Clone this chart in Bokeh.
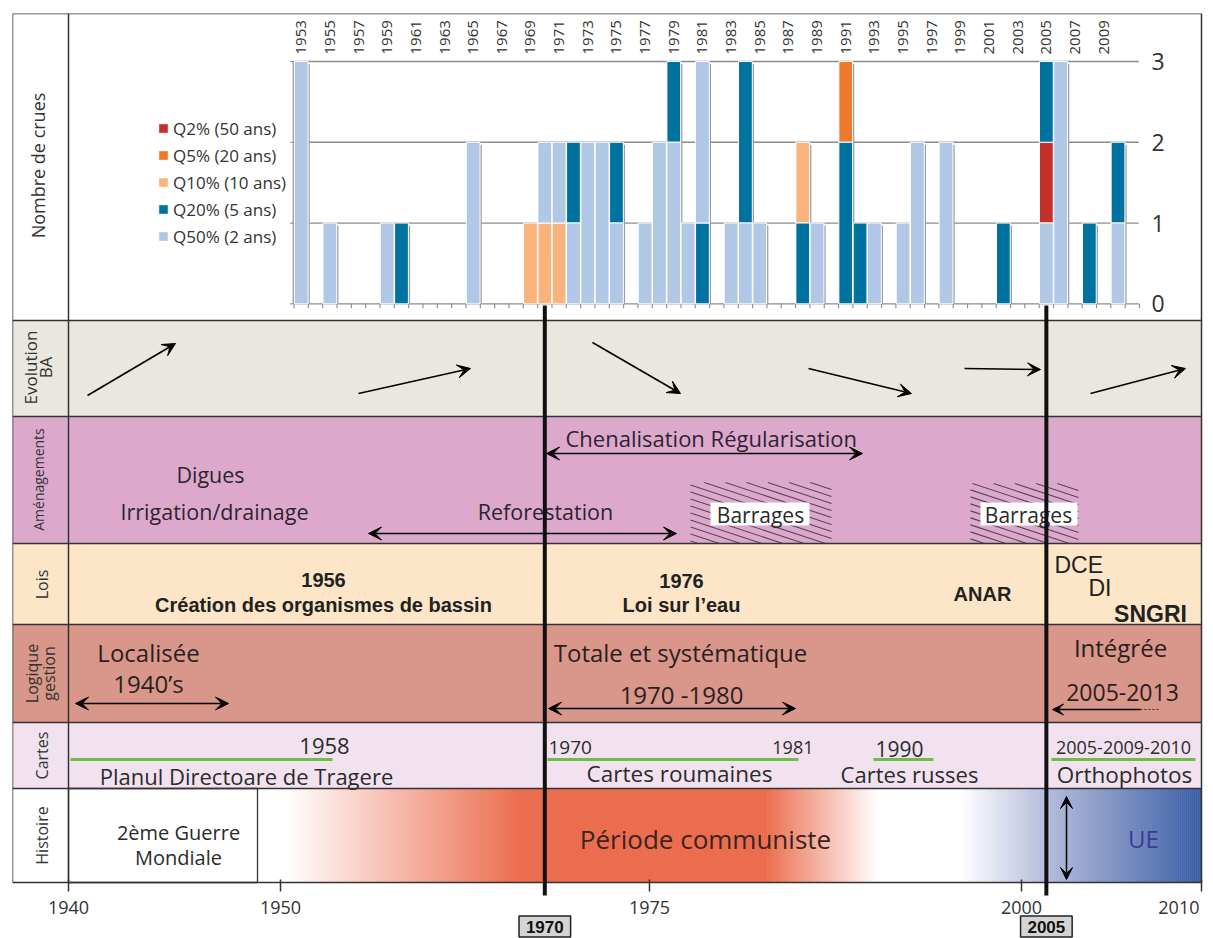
import math
from bokeh.plotting import figure
from bokeh.models import Range1d, ColumnDataSource, Legend, LegendItem, Arrow, VeeHead, FixedTicker
from bokeh.core.properties import value
from bokeh.embed import file_html
from bokeh.resources import INLINE

# ---------------- data ----------------
crue_classes = ["Q2", "Q5", "Q10", "Q20", "Q50"]
crue_labels = ["Q2% (50 ans)", "Q5% (20 ans)", "Q10% (10 ans)", "Q20% (5 ans)", "Q50% (2 ans)"]
crue_colors = ["#C4302A", "#EE7A2E", "#F9B37C", "#00729F", "#B0C7E5"]

# one entry per flood, stacked bottom -> top in the listed order
flood_year = [
    1953, 1953, 1953,
    1955,
    1959,
    1960,
    1965, 1965,
    1969,
    1970, 1970,
    1971, 1971,
    1972, 1972,
    1973, 1973,
    1974, 1974,
    1975, 1975,
    1977,
    1978, 1978,
    1979, 1979, 1979,
    1980,
    1981, 1981, 1981,
    1983,
    1984, 1984, 1984,
    1985,
    1988, 1988,
    1989,
    1991, 1991, 1991,
    1992,
    1993,
    1995,
    1996, 1996,
    1998, 1998,
    2002,
    2005, 2005, 2005,
    2006, 2006, 2006,
    2008,
    2010, 2010,
]
flood_class = [
    "Q50", "Q50", "Q50",
    "Q50",
    "Q50",
    "Q20",
    "Q50", "Q50",
    "Q10",
    "Q10", "Q50",
    "Q10", "Q50",
    "Q50", "Q20",
    "Q50", "Q50",
    "Q50", "Q50",
    "Q50", "Q20",
    "Q50",
    "Q50", "Q50",
    "Q50", "Q50", "Q20",
    "Q50",
    "Q20", "Q50", "Q50",
    "Q50",
    "Q50", "Q20", "Q20",
    "Q50",
    "Q20", "Q10",
    "Q50",
    "Q20", "Q20", "Q5",
    "Q20",
    "Q50",
    "Q50",
    "Q50", "Q50",
    "Q50", "Q50",
    "Q20",
    "Q50", "Q2", "Q20",
    "Q50", "Q50", "Q50",
    "Q20",
    "Q50", "Q20",
]

year_labels = [1953, 1955, 1957, 1959, 1961, 1963, 1965, 1967, 1969, 1971, 1973, 1975,
               1977, 1979, 1981, 1983, 1985, 1987, 1989, 1991, 1993, 1995, 1997, 1999,
               2001, 2003, 2005, 2007, 2009]
count_ticks = [0, 1, 2, 3]
key_years = [1970, 2005]

timeline_labels = ["1940", "1950", "1975", "2000", "2010"]
timeline_px = [68, 280, 649, 1021, 1201]

band_names = ["Nombre de crues", "Evolution BA", "Aménagements", "Lois", "Logique gestion", "Cartes", "Histoire"]
band_edges = [13, 320, 416, 543, 624, 722, 788, 882]
band_colors = ["#FFFFFF", "#E9E7DF", "#DCA9CD", "#FDE6C8", "#D9968A", "#F2E2F0", "#FFFFFF"]

# ---------------- layout / scales ----------------
X_L, X_DIV, X_R = 12, 68, 1201
F_R = 1213                                    # frame right edge (page edge)
Y_T, Y_B = 13, 938                            # frame spans the page below the top margin
YR0, PX0, PPY = 1953, 300.7, 14.33          # top bar chart: year -> pixel
C0_PX, PPC = 303.3, 80.77                    # count 0 at pixel 303.3, 80.77 px per flood

yr_range = Range1d(YR0 + (X_L - PX0) / PPY, YR0 + (F_R - PX0) / PPY)
count_range = Range1d((C0_PX - Y_B) / PPC, (C0_PX - Y_T) / PPC)

p = figure(width=1213, height=938, x_range=Range1d(X_L, F_R), y_range=Range1d(Y_B, Y_T),
           output_backend="svg", toolbar_location=None, y_axis_location=None, title=None,
           min_border_left=12, min_border_right=0, min_border_top=13, min_border_bottom=0)
p.extra_x_ranges = {"yr": yr_range}
p.extra_y_ranges = {"count": count_range}
p.grid.visible = False
p.background_fill_color = "white"
p.border_fill_color = "white"
p.outline_line_color = None

NB = "\u00a0"
ax = p.xaxis[0]
ax.fixed_location = band_edges[-1]
ax.ticker = FixedTicker(ticks=timeline_px)
ax.major_label_overrides = {t: (l if t != timeline_px[-1] else l + NB * 3)
                            for t, l in zip(timeline_px, timeline_labels)}
ax.minor_tick_line_color = None
ax.major_tick_in = 3
ax.major_tick_out = 9
ax.major_tick_line_width = 1.5
ax.major_tick_line_color = "#333333"
ax.axis_line_color = None
ax.major_label_text_font = "Open Sans"
ax.major_label_text_font_size = "18px"
ax.major_label_text_color = "#333333"
ax.major_label_standoff = 3

OS = "Open Sans"
LS = "Liberation Sans"


def T(x, y, s, size, font=OS, style="normal", align="center", color="#2b2b2b", angle=0.0,
      baseline="middle", **kw):
    p.text(x=[x], y=[y], text=[s], text_font=value(font), text_font_size=f"{size}px",
           text_font_style=style, text_align=align, text_baseline=baseline,
           text_color=color, angle=angle, **kw)


def A(x0, y0, x1, y1, both=False, lw=1.6, size=13):
    head = lambda: VeeHead(size=size, fill_color="black", line_color="black", line_width=1)
    p.add_layout(Arrow(x_start=x0, y_start=y0, x_end=x1, y_end=y1, end=head(),
                       start=head() if both else None, line_width=lw, line_color="black"))


# ---------------- band backgrounds ----------------
p.quad(left=[X_L] * len(band_colors), right=[X_R] * len(band_colors),
       top=band_edges[:-1], bottom=band_edges[1:], fill_color=band_colors, line_color=None)

# Histoire gradient
hist_stops = [(257, "#FFFFFF"), (285, "#FFFFFF"), (520, "#EB6A4B"), (765, "#EB6A4B"), (877, "#FFFFFF"),
              (960, "#FFFFFF"), (1045, "#B4BBDB"), (1201, "#3A5DA5")]


def _rgb(h):
    return tuple(int(h[i:i + 2], 16) for i in (1, 3, 5))


def grad_color(px):
    for (x0, c0), (x1, c1) in zip(hist_stops, hist_stops[1:]):
        if x0 <= px <= x1:
            t = (px - x0) / (x1 - x0) if x1 > x0 else 0.0
            a, b = _rgb(c0), _rgb(c1)
            return "#%02x%02x%02x" % tuple(round(a[k] + (b[k] - a[k]) * t) for k in range(3))
    return hist_stops[-1][1]


gx = list(range(257, X_R, 2))
p.quad(left=gx, right=[min(g + 2.4, X_R) for g in gx], top=[band_edges[6]] * len(gx),
       bottom=[band_edges[7]] * len(gx), fill_color=[grad_color(g + 1) for g in gx], line_color=None)
p.quad(left=[X_DIV], right=[257], top=[band_edges[6]], bottom=[band_edges[7]],
       fill_color="white", line_color="#333333", line_width=1.3)

# ---------------- top chart: grid, axis lines ----------------
g0, g1 = 1952.45, 2011.45
p.segment(x0=[g0] * 4, x1=[g1] * 4, y0=count_ticks, y1=count_ticks, x_range_name="yr", y_range_name="count",
          line_color="#8c8c8c", line_width=1.3)
p.segment(x0=[g0], x1=[g0], y0=[0], y1=[3], x_range_name="yr", y_range_name="count",
          line_color="#8c8c8c", line_width=1.3)
p.segment(x0=[g0 - 0.22] * 4, x1=[g0] * 4, y0=count_ticks, y1=count_ticks, x_range_name="yr",
          y_range_name="count", line_color="#8c8c8c", line_width=1.2)
btick = [y + 0.5 for y in range(1952, 2012)]
p.segment(x0=btick, x1=btick, y0=[0] * len(btick), y1=[-0.055] * len(btick), x_range_name="yr",
          y_range_name="count", line_color="#8c8c8c", line_width=1.1)

# ---------------- stacked bars ----------------
level = {}
runs = []
for yr, cl in zip(flood_year, flood_class):
    b = level.get(yr, 0)
    level[yr] = b + 1
    if runs and runs[-1][0] == yr and runs[-1][1] == cl:
        runs[-1][3] = b + 1
    else:
        runs.append([yr, cl, b, b + 1])

sh_years = sorted(level)
p.quad(left=[y + 0.46 for y in sh_years], right=[y + 0.6 for y in sh_years], bottom=[0] * len(sh_years),
       top=[level[y] - 0.03 for y in sh_years], x_range_name="yr", y_range_name="count",
       fill_color="#9c9c9c", line_color=None)

legend_items = []
for cl, lab, col in zip(crue_classes, crue_labels, crue_colors):
    rr = [r for r in runs if r[1] == cl]
    src = ColumnDataSource(dict(left=[r[0] - 0.48 for r in rr], right=[r[0] + 0.48 for r in rr],
                                bottom=[r[2] for r in rr], top=[r[3] for r in rr]))
    rend = p.quad(left="left", right="right", bottom="bottom", top="top", source=src,
                  x_range_name="yr", y_range_name="count", fill_color=col, line_color="white", line_width=1)
    legend_items.append(LegendItem(label=lab, renderers=[rend]))

legend = Legend(items=legend_items, location=(145, Y_B - 247.5), orientation="vertical", margin=0, padding=0,
                spacing=4, label_height=23, glyph_height=12, glyph_width=12, label_standoff=4,
                label_text_font="Open Sans", label_text_font_size="17px", label_text_color="#333333",
                border_line_color=None, background_fill_alpha=0)
p.add_layout(legend)

# year labels on top, count labels on the right
p.text(x=year_labels, y=[54] * len(year_labels), text=[str(y) for y in year_labels], x_range_name="yr",
       angle=math.pi / 2, text_align="left", text_baseline="middle", text_font=value(OS),
       text_font_size="15px", text_color="#333333")
p.text(x=[1151] * len(count_ticks), y=count_ticks, text=[str(c) for c in count_ticks], y_range_name="count",
       text_align="left", text_baseline="middle", text_font=value(OS), text_font_size="23px",
       text_color="#333333")

# ---------------- left label column ----------------
R = math.pi / 2
T(37, 165, band_names[0], 18, angle=R, color="#333333")
T(30, 367, "Evolution", 17, angle=R, color="#333333")
T(45, 367, "BA", 17, angle=R, color="#333333")
T(38, 479, band_names[2], 14, angle=R, color="#333333")
T(41, 584, band_names[3], 16, angle=R, color="#333333")
T(31, 673, "Logique", 16, angle=R, color="#333333")
T(48, 673, "gestion", 16, angle=R, color="#333333")
T(41, 755, band_names[5], 16, angle=R, color="#333333")
T(41, 835, band_names[6], 16, angle=R, color="#333333")

# ---------------- Aménagements ----------------
def hatch(x0, x1, y0, y1, slope=0.33, step=7.0):
    xs0, ys0, xs1, ys1 = [], [], [], []
    c = y0 - slope * (x1 - x0)
    while c < y1:
        xa = max(x0, x0 + (y0 - c) / slope)
        xb = min(x1, x0 + (y1 - c) / slope)
        if xa < xb:
            xs0.append(xa); ys0.append(c + slope * (xa - x0))
            xs1.append(xb); ys1.append(c + slope * (xb - x0))
        c += step
    p.segment(x0=xs0, y0=ys0, x1=xs1, y1=ys1, line_color="#5a4558", line_width=1.1)


hatch(690, 831, 482, 543)
hatch(970, 1078, 483, 543)
p.quad(left=[710, 980], right=[809, 1077], top=[502, 502], bottom=[525, 525], fill_color="white", line_color=None)
T(760, 514, "Barrages", 21)
T(1028, 514, "Barrages", 21)

AM = "#2e2430"
T(565, 437, "Chenalisation  Régularisation", 22, align="left", color=AM)
T(210, 474, "Digues", 21.5, color=AM)
T(214, 511, "Irrigation/drainage", 21.5, color=AM)
T(545, 511, "Reforestation", 21.5, color=AM)

# ---------------- Lois ----------------
T(323, 579, "1956", 20, font=LS, style="bold", color="#222222")
T(323, 604, "Création des organismes de bassin", 20, font=LS, style="bold", color="#222222")
T(681, 580, "1976", 20, font=LS, style="bold", color="#222222")
T(681, 604, "Loi sur l’eau", 20, font=LS, style="bold", color="#222222")
T(982, 593, "ANAR", 20, font=LS, style="bold", color="#222222")
T(1054, 564, "DCE", 23, font=LS, align="left", color="#222222")
T(1088, 587, "DI", 23, font=LS, align="left", color="#222222")
T(1150, 613, "SNGRI", 23, font=LS, style="bold", color="#222222")

# ---------------- Logique gestion ----------------
LG = "#2b1f1d"
T(148, 652, "Localisée", 24, color=LG)
T(148, 683, "1940’s", 24, color=LG)
T(680, 652, "Totale et systématique", 24, color=LG)
T(681, 694, "1970 -1980", 24, color=LG)
T(1120, 647, "Intégrée", 24, color=LG)
T(1122, 692, "2005-2013", 23, color=LG)
p.segment(x0=[1140], x1=[1160], y0=[709], y1=[709], line_color="#333333", line_width=1.2, line_dash="2 2")

# ---------------- Cartes ----------------
GREEN = "#6DBE47"
p.segment(x0=[70, 547, 873, 1051], x1=[332, 798, 933, 1195], y0=[759] * 4, y1=[759] * 4,
          line_color=GREEN, line_width=3)
CT = "#2b2b2b"
T(324, 745, "1958", 22, color=CT)
T(246, 775, "Planul Directoare de Tragere", 22, color=CT)
T(548, 747, "1970", 19, align="left", color=CT)
T(813, 747, "1981", 18, align="right", color=CT)
T(679, 773, "Cartes roumaines", 22.5, color=CT)
T(899, 748, "1990", 21, color=CT)
T(909, 773, "Cartes russes", 22, color=CT)
T(1123, 747, "2005-2009-2010", 18, color=CT)
T(1124, 774, "Orthophotos", 22.5, color=CT)

# ---------------- Histoire ----------------
T(178, 832, "2ème Guerre", 20, color="#2b2b2b")
T(178, 857, "Mondiale", 20, color="#2b2b2b")
T(705, 838, "Période communiste", 26, color="#3a2420")
T(1143, 838, "UE", 24, color="#3C3C96")

# ---------------- dividers and outer box ----------------
mid = band_edges[1:-1]
p.segment(x0=[X_L] * len(mid), x1=[X_R] * len(mid), y0=mid, y1=mid, line_color="#333333", line_width=1.5)
p.segment(x0=[X_DIV], x1=[X_DIV], y0=[band_edges[0]], y1=[band_edges[-1]], line_color="#333333", line_width=1.5)
p.quad(left=[X_L], right=[X_R], top=[band_edges[0]], bottom=[band_edges[-1]], fill_color=None,
       line_color="#333333", line_width=1.5)

# key years: thick vertical lines and boxed labels
p.segment(x0=key_years, x1=key_years, y0=[305] * 2, y1=[895] * 2, x_range_name="yr",
          line_color="#111111", line_width=4)
p.rect(x=key_years, y=[926] * 2, width=[3.6] * 2, height=[21] * 2, x_range_name="yr",
       fill_color="#D4D4D4", line_color="#222222", line_width=1.5)
p.text(x=key_years, y=[926] * 2, text=[str(k) for k in key_years], x_range_name="yr",
       text_align="center", text_baseline="middle", text_font=value(LS), text_font_style="bold",
       text_font_size="17px", text_color="#111111")

# ---------------- arrows ----------------
A(87, 395, 175, 343)
A(358, 393, 470, 368)
A(592, 342, 680, 393)
A(808, 368, 911, 393)
A(964, 368, 1040, 369)
A(1090, 393, 1185, 368)
A(546, 453, 862, 453, both=True)
A(368, 533, 676, 533, both=True)
A(75, 703, 228, 703, both=True)
A(548, 708, 795, 708, both=True)
A(1140, 709, 1052, 709, lw=1.3, size=11)
A(1066, 796, 1066, 879, both=True, lw=1.5, size=12)

open("out.html", "w").write(file_html(p, INLINE))
